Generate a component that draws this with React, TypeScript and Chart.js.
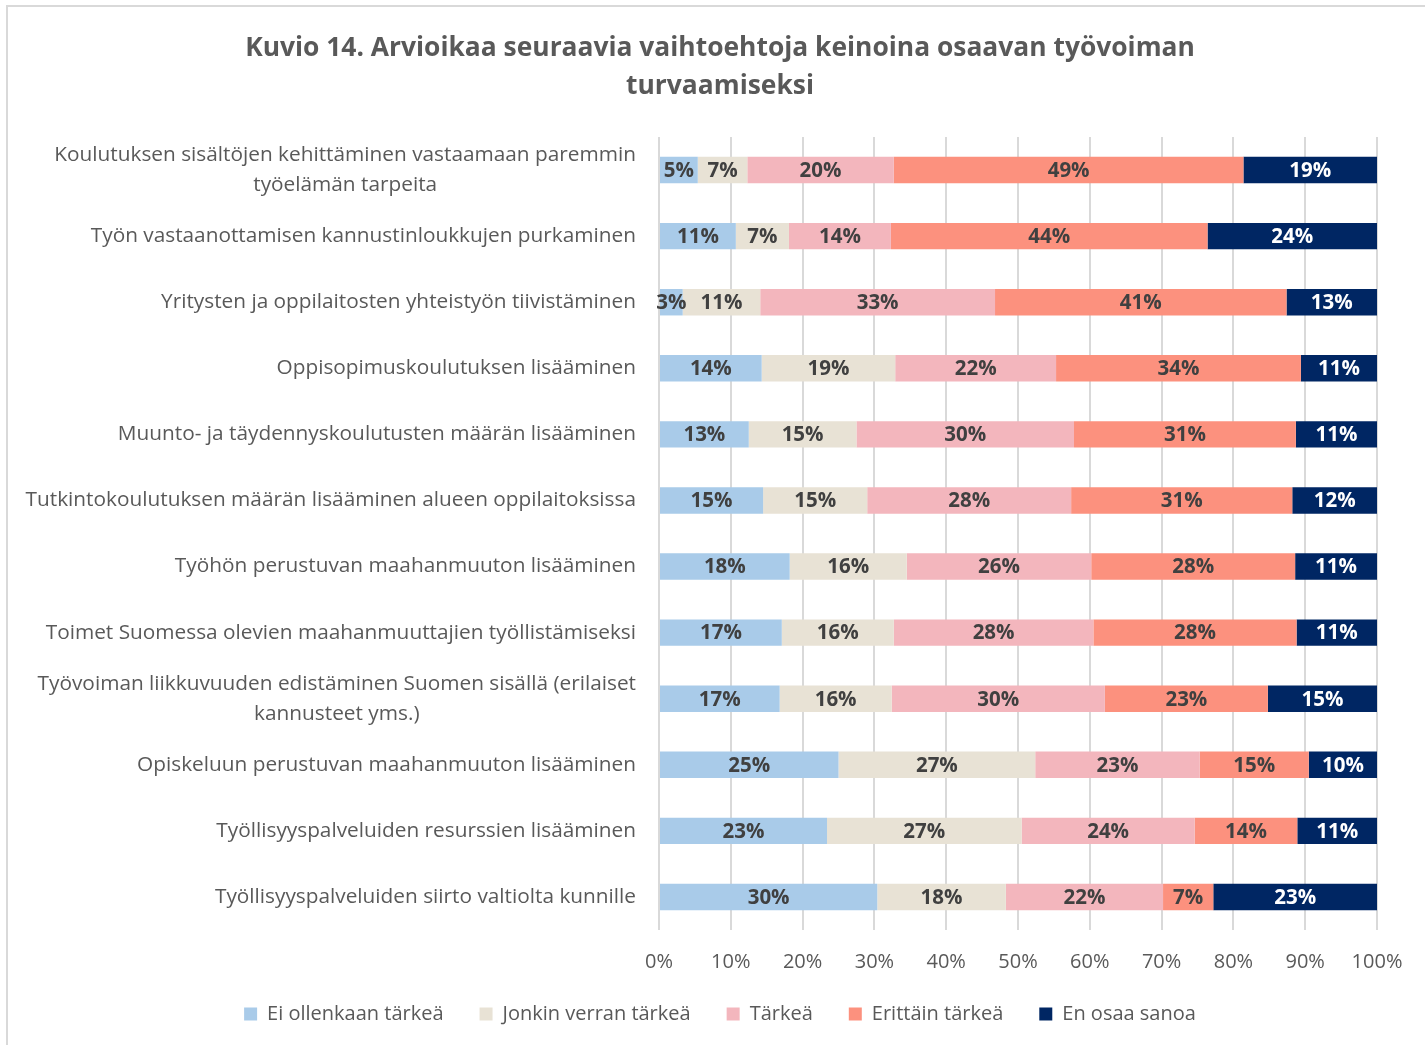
import React, { useEffect, useRef } from "react";
import { Chart, registerables } from "chart.js";

Chart.register(...registerables);

const titleLines = [
  "Kuvio 14. Arvioikaa seuraavia vaihtoehtoja keinoina osaavan työvoiman",
  "turvaamiseksi",
];

const categories: (string | string[])[] = [
  ["Koulutuksen sisältöjen kehittäminen vastaamaan paremmin", "työelämän tarpeita"],
  "Työn vastaanottamisen kannustinloukkujen purkaminen",
  "Yritysten ja oppilaitosten yhteistyön tiivistäminen",
  "Oppisopimuskoulutuksen lisääminen",
  "Muunto- ja täydennyskoulutusten määrän lisääminen",
  "Tutkintokoulutuksen määrän lisääminen alueen oppilaitoksissa",
  "Työhön perustuvan maahanmuuton lisääminen",
  "Toimet Suomessa olevien maahanmuuttajien työllistämiseksi",
  ["Työvoiman liikkuvuuden edistäminen Suomen sisällä (erilaiset", "kannusteet yms.)"],
  "Opiskeluun perustuvan maahanmuuton lisääminen",
  "Työllisyyspalveluiden resurssien lisääminen",
  "Työllisyyspalveluiden siirto valtiolta kunnille",
];

const seriesNames = [
  "Ei ollenkaan tärkeä",
  "Jonkin verran tärkeä",
  "Tärkeä",
  "Erittäin tärkeä",
  "En osaa sanoa",
];

const eiOllenkaan = [5.4, 10.7, 3.3, 14.3, 12.5, 14.5, 18.2, 17.1, 16.8, 25.0, 23.4, 30.4];
const jonkinVerran = [6.9, 7.4, 10.8, 18.6, 15.0, 14.5, 16.3, 15.6, 15.6, 27.4, 27.1, 17.9];
const tarkea = [20.4, 14.2, 32.7, 22.4, 30.3, 28.4, 25.7, 27.8, 29.7, 22.9, 24.1, 21.9];
const erittainTarkea = [48.7, 44.1, 40.6, 34.1, 30.9, 30.8, 28.4, 28.3, 22.7, 15.2, 14.3, 7.0];
const enOsaa = [18.6, 23.6, 12.6, 10.6, 11.3, 11.8, 11.4, 11.2, 15.2, 9.5, 11.1, 22.8];

const xTicks = [0, 10, 20, 30, 40, 50, 60, 70, 80, 90, 100];

const colors = ["#A9CBE9", "#E8E2D5", "#F3B6BD", "#FC917E", "#002663"];
const labelColors = ["#404040", "#404040", "#404040", "#404040", "#FFFFFF"];

const FONT = "'Open Sans', Lato, sans-serif";

const dataLabelPlugin = {
  id: "segLabels",
  afterDatasetsDraw(chart: any) {
    const ctx = chart.ctx;
    ctx.save();
    ctx.font = `bold 20.5px ${FONT}`;
    ctx.textAlign = "center";
    ctx.textBaseline = "middle";
    chart.data.datasets.forEach((ds: any, di: number) => {
      const meta = chart.getDatasetMeta(di);
      meta.data.forEach((bar: any, i: number) => {
        const v = ds.data[i];
        const cx = (bar.x + bar.base) / 2;
        ctx.fillStyle = labelColors[di];
        ctx.fillText(Math.round(v) + "%", cx, bar.y + 1);
      });
    });
    ctx.restore();
  },
};

const categoryLabelPlugin = {
  id: "catLabels",
  afterDraw(chart: any) {
    const ctx = chart.ctx;
    const yScale = chart.scales.y;
    const right = chart.chartArea.left - 23;
    ctx.save();
    ctx.font = `20.8px ${FONT}`;
    ctx.fillStyle = "#595959";
    ctx.textAlign = "center";
    ctx.textBaseline = "middle";
    const lh = 30;
    chart.data.labels.forEach((lab: any, i: number) => {
      const lines: string[] = Array.isArray(lab) ? lab : [lab];
      const maxW = Math.max(...lines.map((l) => ctx.measureText(l).width));
      const cx = right - maxW / 2;
      const cy = yScale.getPixelForTick(i);
      const top = cy - ((lines.length - 1) * lh) / 2;
      lines.forEach((l, k) => ctx.fillText(l, cx, top + k * lh));
    });
    ctx.restore();
  },
};

export default function App() {
  const ref = useRef<HTMLCanvasElement | null>(null);

  useEffect(() => {
    document.body.style.margin = "0";
    const canvas = ref.current;
    if (!canvas) return;
    const datasetValues = [eiOllenkaan, jonkinVerran, tarkea, erittainTarkea, enOsaa];
    const chart = new Chart(canvas, {
      type: "bar",
      data: {
        labels: categories,
        datasets: datasetValues.map((d, i) => ({
          label: seriesNames[i],
          data: d,
          backgroundColor: colors[i],
          borderWidth: 0,
          barPercentage: 0.4,
          categoryPercentage: 1,
        })),
      },
      plugins: [dataLabelPlugin, categoryLabelPlugin],
      options: {
        indexAxis: "y",
        animation: false,
        responsive: false,
        devicePixelRatio: 1,
        layout: { padding: { left: 63, right: 48, top: 0, bottom: 11 } },
        scales: {
          x: {
            stacked: true,
            min: 0,
            max: 100,
            afterBuildTicks(scale: any) {
              scale.ticks = xTicks.map((v) => ({ value: v }));
            },
            afterFit(scale: any) {
              scale.height = 38;
            },
            ticks: {
              callback: (v: any) => v + "%",
              color: "#595959",
              font: { family: FONT, size: 20 },
              padding: 20,
            },
            grid: { color: "#D9D9D9", lineWidth: 2, drawTicks: false },
            border: { display: false },
          },
          y: {
            stacked: true,
            afterFit(scale: any) {
              scale.width = 596;
            },
            ticks: { display: false },
            grid: { display: false, drawTicks: false },
            border: { display: false },
          },
        },
        plugins: {
          title: {
            display: true,
            text: titleLines,
            color: "#595959",
            font: { family: FONT, size: 26.4, weight: "bold", lineHeight: 1.44 },
            padding: { top: 29, bottom: 32 },
          },
          legend: {
            position: "bottom",
            labels: {
              boxWidth: 13,
              boxHeight: 13,
              color: "#595959",
              font: { family: FONT, size: 20 },
              padding: 36,
            },
          },
          tooltip: { enabled: false },
        },
      },
    } as any);
    return () => chart.destroy();
  }, []);

  return (
    <div style={{ position: "relative", width: 1425, height: 1045, background: "#fff" }}>
      <canvas ref={ref} width={1425} height={1045} style={{ display: "block" }} />
      <div
        style={{
          position: "absolute",
          left: 6,
          top: 5,
          width: 1425,
          height: 1045,
          borderTop: "2px solid #D9D9D9",
          borderLeft: "2px solid #D9D9D9",
          pointerEvents: "none",
        }}
      />
    </div>
  );
}
